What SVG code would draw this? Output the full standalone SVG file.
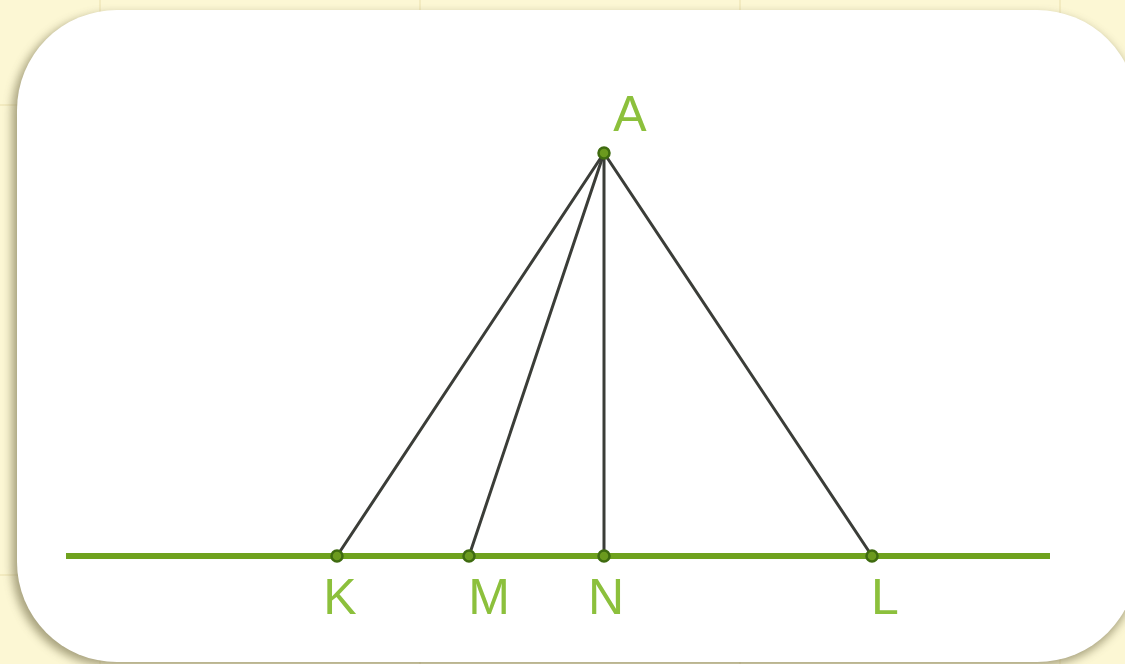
<svg xmlns="http://www.w3.org/2000/svg" width="1125" height="664" viewBox="0 0 1125 664">
<style>
.seg{stroke:#3b3d38;stroke-width:3;stroke-linecap:round}
.pt{fill:#6b9a1e;stroke:#3f6b10;stroke-width:2.5}
.lbl{font-family:"Liberation Sans",Arial,sans-serif;font-size:50px;fill:#8cc03c;text-anchor:middle}
.grid{stroke:#f3ebc0;stroke-width:2}
</style>
<defs>
<filter id="sh" x="-10%" y="-10%" width="120%" height="120%">
<feGaussianBlur stdDeviation="5"/>
</filter>
</defs>
<rect width="1125" height="664" fill="#fcf7d4"/>
<g id="grid">
<line class="grid" x1="100" y1="0" x2="100" y2="664"/>
<line class="grid" x1="420" y1="0" x2="420" y2="664"/>
<line class="grid" x1="740" y1="0" x2="740" y2="664"/>
<line class="grid" x1="1060" y1="0" x2="1060" y2="664"/>
<line class="grid" x1="0" y1="105" x2="1125" y2="105"/>
<line class="grid" x1="0" y1="575" x2="1125" y2="575"/>
</g>
<rect x="12" y="14" width="1125" height="652" rx="100" fill="#8a8460" opacity="0.75" filter="url(#sh)"/>
<rect id="panel" x="17" y="10" width="1120" height="652" rx="100" fill="#ffffff"/>
<g id="baseline">
<line x1="66" y1="556" x2="1050" y2="556" stroke="#6fa21e" stroke-width="6"/>
</g>
<g id="connectors">
<line class="seg" x1="604" y1="153" x2="337" y2="556"/>
<line class="seg" x1="604" y1="153" x2="469" y2="556"/>
<line class="seg" x1="604" y1="153" x2="604" y2="556"/>
<line class="seg" x1="604" y1="153" x2="872" y2="556"/>
</g>
<g id="node-A"><circle class="pt" cx="604" cy="153" r="5.5"/><text class="lbl" x="630" y="131">A</text></g>
<g id="node-K"><circle class="pt" cx="337" cy="556" r="5.5"/><text class="lbl" x="340" y="614">K</text></g>
<g id="node-M"><circle class="pt" cx="469" cy="556" r="5.5"/><text class="lbl" x="489" y="614">M</text></g>
<g id="node-N"><circle class="pt" cx="604" cy="556" r="5.5"/><text class="lbl" x="606" y="614">N</text></g>
<g id="node-L"><circle class="pt" cx="872" cy="556" r="5.5"/><text class="lbl" x="885" y="614">L</text></g>
</svg>
